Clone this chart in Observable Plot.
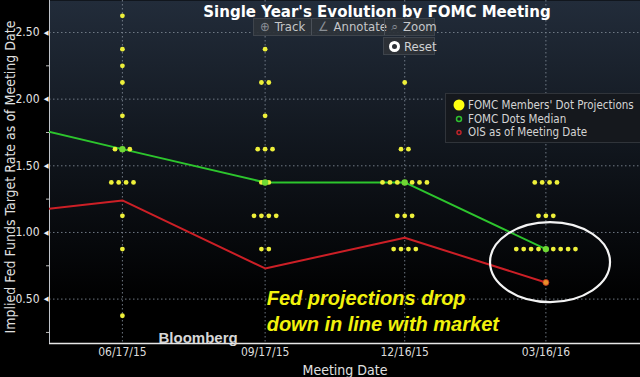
<!DOCTYPE html>
<html><head><meta charset="utf-8">
<script src="https://cdn.jsdelivr.net/npm/d3@7"></script>
<script src="https://cdn.jsdelivr.net/npm/@observablehq/plot@0.6"></script>
<style>
html,body{margin:0;padding:0;background:#000;}
#wrap{position:relative;width:640px;height:377px;overflow:hidden;background:#000;font-family:"DejaVu Sans Condensed","DejaVu Sans",sans-serif;font-stretch:condensed;}
#chart{position:absolute;left:0;top:0;}
#title{position:absolute;left:0;width:754px;top:3px;text-align:center;color:#fff;font-weight:bold;font-size:15px;font-family:"DejaVu Sans",sans-serif;font-stretch:normal;white-space:nowrap;}
#ylabel{position:absolute;left:-190px;top:168px;width:400px;height:18px;line-height:18px;text-align:center;color:#e0e0e0;font-size:14px;transform:rotate(-90deg);transform-origin:50% 50%;white-space:nowrap;}
#toolbar{position:absolute;left:253px;top:18px;height:16px;display:flex;background:rgba(46,51,58,0.92);border:1px solid #3e444c;color:#c4c6c8;font-size:13px;line-height:16px;}
#toolbar span{padding:0 0 0 6px;white-space:nowrap;box-sizing:border-box;}
#toolbar span+span{border-left:1px solid #4a5058;}
#toolbar b{font-weight:normal;color:#8a8f96;margin-right:5px;}
#reset{position:absolute;left:383px;top:37px;width:52px;height:18px;background:#2c3036;border:1px solid #3e444c;color:#d0d2d4;font-size:13px;line-height:17px;box-sizing:border-box;}
#reset i{position:absolute;left:5px;top:3px;width:5px;height:5px;border:3px solid #fff;border-radius:50%;}
#reset span{position:absolute;left:20px;top:0;}
#legend{position:absolute;left:445px;top:93px;width:200px;height:50px;background:#15181d;border:1px solid #30343a;box-sizing:border-box;color:#d4d4d4;font-size:11.5px;}
#legend div{position:absolute;left:22px;white-space:nowrap;line-height:14px;}
#legend svg{position:absolute;left:0;top:0;}
</style>
</head><body>
<svg width="0" height="0" style="position:absolute">
  <defs>
    <linearGradient id="bgGrad" x1="0" y1="0" x2="0" y2="1">
      <stop offset="0" stop-color="#222c3a"/>
      <stop offset="0.45" stop-color="#10151c"/>
      <stop offset="0.88" stop-color="#000000"/>
    </linearGradient>
  </defs>
</svg>
<div id="wrap">
  <div id="chart"></div>
  <div id="title">Single Year's Evolution by FOMC Meeting</div>
  <div id="ylabel">Implied Fed Funds Target Rate as of Meeting Date</div>
  <div id="toolbar"><span style="width:57px"><b>⊕</b>Track</span><span style="width:73px"><b>∠</b>Annotate</span><span style="width:50px"><b>⌕</b>Zoom</span></div>
  <div id="reset"><i></i><span>Reset</span></div>
  <div id="legend">
    <svg width="22" height="50">
      <circle cx="13" cy="11" r="5.5" fill="#ffff10"/>
      <circle cx="13" cy="25" r="2.5" fill="none" stroke="#2fc02f" stroke-width="1.5"/>
      <circle cx="13" cy="38.5" r="2" fill="none" stroke="#c0242a" stroke-width="1.5"/>
    </svg>
    <div style="top:4px">FOMC Members' Dot Projections</div>
    <div style="top:18px">FOMC Dots Median</div>
    <div style="top:31px">OIS as of Meeting Date</div>
  </div>
</div>
<script>
// ---- data ----
const meetings = ["2015-06-17", "2015-09-17", "2015-12-16", "2016-03-16"];
const dotRates = [2.625, 2.375, 2.25, 2.125, 1.875, 1.625, 1.375, 1.125, 0.875, 0.375];
// number of dots at each rate level, per meeting
const dotsJun15 = [1, 1, 1, 1, 1, 3, 4, 1, 1, 1];
const dotsSep15 = [0, 1, 0, 2, 1, 3, 2, 4, 2, 0];
const dotsDec15 = [0, 0, 0, 1, 0, 2, 7, 3, 4, 0];
const dotsMar16 = [0, 0, 0, 0, 0, 0, 4, 3, 9, 0];
const lineDates = ["2015-03-18", "2015-06-17", "2015-09-17", "2015-12-16", "2016-03-16"];
const medianValues = [1.875, 1.625, 1.375, 1.375, 0.875];
const oisValues = [1.12, 1.24, 0.73, 0.96, 0.625];
const yTicks = [0.5, 1.0, 1.5, 2.0, 2.5];
const yMinorTicks = [0.25, 0.75, 1.25, 1.75, 2.25];
const xDomain = ["2015-05-01", "2016-05-16"];
const yDomain = [0.167, 2.74];

// ---- build tables ----
const W = 640, H = 377, ML = 49, MR = 0, MT = 0, MB = 34;
const dayMs = 864e5;
const x0 = new Date(xDomain[0]), x1 = new Date(xDomain[1]);
const pxPerDay = (W - ML - MR) / ((x1 - x0) / dayMs);
const dotGapDays = 7.4 / pxPerDay;
const counts = [dotsJun15, dotsSep15, dotsDec15, dotsMar16];
const dots = [];
meetings.forEach((m, mi) => {
  const base = new Date(m);
  counts[mi].forEach((n, ri) => {
    for (let k = 0; k < n; k++) {
      const off = (k - (n - 1) / 2) * dotGapDays;
      dots.push({date: new Date(+base + off * dayMs), rate: dotRates[ri]});
    }
  });
});
const median = lineDates.map((d, i) => ({date: new Date(d), value: medianValues[i]}));
const ois = lineDates.map((d, i) => ({date: new Date(d), value: oisValues[i]}));
const meetingDates = meetings.map(d => new Date(d));

function ellipseMark(index, scales) {
  const cx = scales.x(new Date("2016-03-19"));
  const cy = scales.y(0.774);
  const el = document.createElementNS("http://www.w3.org/2000/svg", "ellipse");
  el.setAttribute("cx", cx); el.setAttribute("cy", cy);
  el.setAttribute("rx", 60); el.setAttribute("ry", 40);
  el.setAttribute("fill", "none"); el.setAttribute("stroke", "#f4f4f4"); el.setAttribute("stroke-width", 2.2);
  return el;
}

const condensed = "'DejaVu Sans Condensed','DejaVu Sans',sans-serif";
const chart = Plot.plot({
  width: W, height: H,
  marginLeft: ML, marginRight: MR, marginTop: MT, marginBottom: MB,
  style: {background: "transparent", fontFamily: condensed, fontSize: "12px", color: "#dcdcdc", overflow: "visible"},
  x: {type: "utc", domain: [x0, x1]},
  y: {domain: yDomain},
  marks: [
    Plot.frame({fill: "url(#bgGrad)", stroke: null}),
    Plot.gridY(yTicks, {stroke: "#7a8490", strokeOpacity: 0.9, strokeDasharray: "1.5,2.5", strokeWidth: 1}),
    Plot.gridX(meetingDates, {stroke: "#7a8490", strokeOpacity: 0.9, strokeDasharray: "1.5,2.5", strokeWidth: 1}),
    Plot.ruleY([yDomain[0]], {stroke: "#e6e6e6", strokeWidth: 1.3}),
    Plot.ruleX([x0], {stroke: "#bfc4ca", strokeWidth: 1}),
    Plot.axisY(yTicks, {tickSize: 0, tickPadding: 10, tickFormat: d => d.toFixed(2), fill: "#e4e4e4", fontSize: 12, label: null}),
    Plot.axisY(yMinorTicks, {tickSize: 3, tickPadding: 0, tickFormat: () => "", stroke: "#bbbbbb", label: null}),
    Plot.text(yTicks, {y: d => d, frameAnchor: "left", text: () => "◀", dx: -1, textAnchor: "end", fill: "#f0f0f0", fontSize: 7}),
    Plot.axisX(meetingDates, {tickSize: 0, tickPadding: 4, tickFormat: d3.utcFormat("%m/%d/%y"), fill: "#dcdcdc", fontSize: 12, label: null}),
    Plot.text(["Meeting Date"], {frameAnchor: "bottom", dy: 27, lineAnchor: "middle", fill: "#e0e0e0", fontSize: 14}),
    Plot.line(ois, {x: "date", y: "value", stroke: "#cc1f26", strokeWidth: 2, clip: true}),
    Plot.line(median, {x: "date", y: "value", stroke: "#2dc52d", strokeWidth: 2, clip: true}),
    Plot.dot(dots, {x: "date", y: "rate", r: 2.4, fill: "#eef03a", stroke: null}),
    Plot.dot(median.slice(1), {x: "date", y: "value", r: 3.2, fill: "#6fd834", stroke: null}),
    Plot.dot(ois.slice(-1), {x: "date", y: "value", r: 3, fill: "#e8902a", stroke: "#c03020", strokeWidth: 0.8}),
    ellipseMark,
    Plot.text(["Fed projections drop\ndown in line with market"], {x: () => new Date("2015-09-18"), y: () => 0.42, textAnchor: "start", lineAnchor: "middle", lineHeight: 1.3, fill: "#f2f20c", fontSize: 20, fontWeight: "bold", fontStyle: "italic", fontFamily: "'Liberation Sans', Arial, sans-serif"}),
    Plot.text(["Bloomberg"], {frameAnchor: "bottom-left", dx: 109, dy: -1, textAnchor: "start", lineAnchor: "bottom", fill: "#d6d6d6", fontSize: 15, fontWeight: "bold", fontFamily: "'Liberation Sans', Arial, sans-serif"})
  ]
});
document.getElementById("chart").appendChild(chart);
</script>
</body></html>
